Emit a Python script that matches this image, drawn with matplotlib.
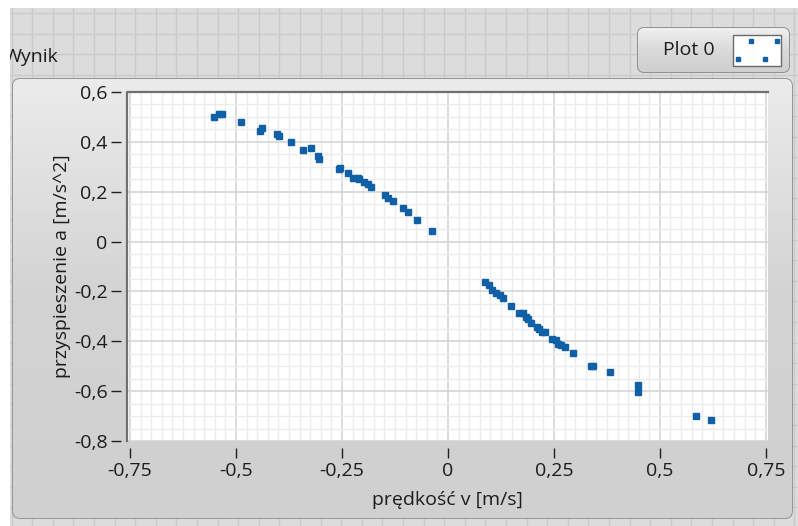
import numpy as np
import matplotlib.pyplot as plt
from matplotlib.patches import Rectangle, FancyBboxPatch
from matplotlib.colors import LinearSegmentedColormap

plt.rcParams['font.family'] = ['Open Sans', 'DejaVu Sans']

# data: speed v [m/s] and acceleration a [m/s^2]
v = [-0.552, -0.541, -0.532, -0.487, -0.444, -0.439, -0.403, -0.399, -0.371,
     -0.343, -0.323, -0.307, -0.303, -0.258, -0.255, -0.236, -0.224, -0.212,
     -0.210, -0.198, -0.189, -0.182, -0.149, -0.141, -0.130, -0.105, -0.093,
     -0.072, -0.038,
     0.088, 0.098, 0.104, 0.114, 0.122, 0.129, 0.148, 0.167, 0.177, 0.183,
     0.189, 0.197, 0.209, 0.214, 0.222, 0.230, 0.245, 0.255, 0.259, 0.267,
     0.275, 0.294, 0.338, 0.343, 0.383, 0.449, 0.449, 0.584, 0.621]
a = [0.499, 0.511, 0.513, 0.479, 0.444, 0.457, 0.431, 0.423, 0.401,
     0.368, 0.375, 0.344, 0.333, 0.293, 0.297, 0.277, 0.257, 0.257,
     0.251, 0.237, 0.229, 0.220, 0.188, 0.173, 0.161, 0.133, 0.119,
     0.085, 0.044,
     -0.163, -0.176, -0.196, -0.205, -0.213, -0.225, -0.259, -0.288, -0.288, -0.303,
     -0.312, -0.328, -0.341, -0.351, -0.363, -0.363, -0.392, -0.393, -0.411, -0.413,
     -0.424, -0.447, -0.501, -0.501, -0.523, -0.576, -0.605, -0.701, -0.716]

x_ticks = [-0.75, -0.5, -0.25, 0, 0.25, 0.5, 0.75]
x_labels = ['-0,75', '-0,5', '-0,25', '0', '0,25', '0,5', '0,75']
y_ticks = [0.6, 0.4, 0.2, 0, -0.2, -0.4, -0.6, -0.8]
y_labels = ['0,6', '0,4', '0,2', '0', '-0,2', '-0,4', '-0,6', '-0,8']

blue = '#1060a8'
txt = '#1c1c1c'
fs = 14

W, H = 798, 526
fig = plt.figure(figsize=(W / 100, H / 100), dpi=100)
fig.patch.set_facecolor('white')

# background panel drawn in pixel coordinates
bg = fig.add_axes([0, 0, 1, 1])
bg.set_xlim(0, W)
bg.set_ylim(H, 0)
bg.axis('off')
bg.add_patch(Rectangle((10, 8), W - 10, H - 8, fc='#dcdcdc', ec='none', zorder=0))
for gx in np.arange(11.5, W, 20.6):
    bg.plot([gx, gx], [8, H], color='#cacaca', lw=1, zorder=1)
for gy in np.arange(13, H, 20.6):
    bg.plot([10, W], [gy, gy], color='#cacaca', lw=1, zorder=1)

# graph frame
frame = FancyBboxPatch((13, 79), 779, 439, boxstyle='round,pad=0,rounding_size=7',
                       fc='#d5d5d5', ec='#8f8f8f', lw=1.3, zorder=2)
bg.add_patch(frame)
grad = np.linspace(0, 1, 100).reshape(-1, 1)
im = bg.imshow(grad, extent=(13, 792, 518, 79),
               cmap=LinearSegmentedColormap.from_list('g', ['#ebebeb', '#d3d3d3', '#d0d0d0']),
               aspect='auto', zorder=2.5)
im.set_clip_path(frame)

# label
bg.text(4, 57, 'Wynik', fontsize=fs, color=txt, va='center', ha='left', zorder=3)
bg.add_patch(Rectangle((0, 0), 10, H, fc='white', ec='none', zorder=4))
bg.add_patch(Rectangle((0, 0), W, 8, fc='white', ec='none', zorder=4))

# legend box
leg = FancyBboxPatch((638, 28), 151, 44, boxstyle='round,pad=0,rounding_size=6',
                     fc='#dddddd', ec='#8a8a8a', lw=1.3, zorder=3)
bg.add_patch(leg)
im2 = bg.imshow(grad, extent=(638, 789, 72, 28),
                cmap=LinearSegmentedColormap.from_list('g2', ['#f0f0f0', '#dadada', '#cfcfcf']),
                aspect='auto', zorder=3.5)
im2.set_clip_path(leg)
bg.text(689, 50, 'Plot 0', fontsize=fs, color=txt, va='center', ha='center', zorder=4)
bg.add_patch(Rectangle((733, 35), 48, 31, fc='white', ec='#6a6a6a', lw=1, zorder=4))
bg.plot([751, 777, 738, 765], [41, 41, 59, 59], 's', ms=3, color=blue, zorder=5)

# plot area
l, r, t, b = 127, 768, 92, 441
ax = fig.add_axes([l / W, 1 - b / H, (r - l) / W, (b - t) / H])
ax.set_zorder(3)
ax.set_facecolor('white')
ax.plot(v, a, 's', ms=4, color=blue, zorder=3)

ax.set_xlim(-0.757, 0.755)
ax.set_ylim(-0.8, 0.6)
ax.set_xticks(x_ticks)
ax.set_xticklabels(x_labels)
ax.set_yticks(y_ticks)
ax.set_yticklabels(y_labels)
ax.set_xticks(np.arange(-0.75, 0.76, 0.025), minor=True)
ax.set_yticks(np.arange(-0.8, 0.61, 0.05), minor=True)
ax.grid(which='minor', color='#ececec', lw=1)
ax.grid(which='major', color='#d6d6d6', lw=1.2)
ax.set_axisbelow(True)

for s in ['top', 'right', 'bottom', 'left']:
    ax.spines[s].set_visible(False)
ax.spines['bottom'].set_position(('outward', 5))
ax.spines['left'].set_position(('outward', 4))
ax.plot([0, 0, 1], [0, 1, 1], transform=ax.transAxes, color='#707070', lw=1.6,
        clip_on=False, zorder=4)

ax.tick_params(which='major', direction='out', length=7, width=1, color='#202020',
               labelsize=fs, labelcolor=txt, pad=3)
ax.tick_params(which='minor', length=0)

ax.set_xlabel('prędkość v [m/s]', fontsize=fs, color=txt, labelpad=8)
ax.set_ylabel('przyspieszenie a [m/s^2]', fontsize=fs, color=txt, labelpad=2)

fig.savefig('out.png', dpi=100)
